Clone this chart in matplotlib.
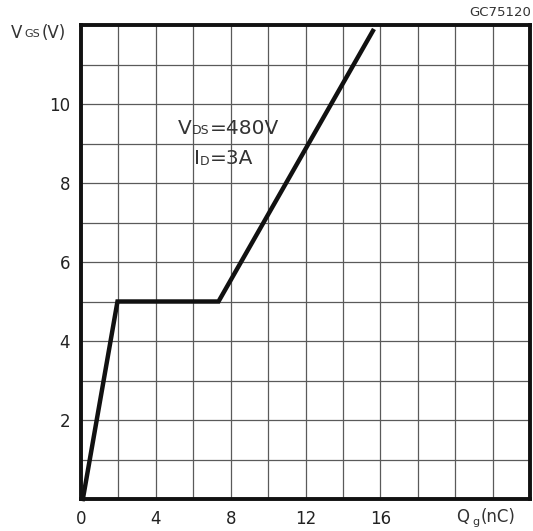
import numpy as np
import matplotlib.pyplot as plt

# gate charge curve (Qg in nC, Vgs in V)
qg = [0.1, 1.95, 7.35, 15.6]
vgs = [0.0, 5.0, 5.0, 11.85]

xticks = [0, 4, 8, 12, 16]
yticks = [2, 4, 6, 8, 10]

fig = plt.figure(figsize=(5.33, 5.31), dpi=100)
ax = fig.add_axes([81/533, 1-499/531, 449/533, 474/531])

ax.set_xlim(0, 24)
ax.set_ylim(0, 12)
ax.set_xticks(np.arange(0, 25, 2))
ax.set_yticks(np.arange(0, 13, 1))
ax.grid(True, color='#5a5a5a', lw=0.9)
ax.set_axisbelow(True)
ax.tick_params(length=0, labelsize=12, colors='#222222', pad=8)
ax.set_xticklabels([str(v) if v in xticks else '' for v in range(0, 25, 2)])
ax.set_yticklabels([str(v) if v in yticks else '' for v in range(0, 13)])
for s in ax.spines.values():
    s.set_linewidth(2.8)
    s.set_color('#111111')

ax.plot(qg, vgs, color='#111111', lw=3.2, solid_joinstyle='miter', clip_on=False)

# axis labels, datasheet style subscripts
fig.text(11/533, 1-33/531, 'V', fontsize=12, color='#333333', va='center')
fig.text(24/533, 1-34/531, 'GS', fontsize=8, color='#333333', va='center')
fig.text(42/533, 1-33/531, '(V)', fontsize=12, color='#333333', va='center')

fig.text(456/533, 1-517/531, 'Q', fontsize=12, color='#333333', va='center')
fig.text(472/533, 1-522/531, 'g', fontsize=8, color='#333333', va='center')
fig.text(481/533, 1-517/531, '(nC)', fontsize=12, color='#333333', va='center')

# test conditions
fig.text(178/533, 1-128/531, 'V', fontsize=14.5, color='#333333', va='center')
fig.text(192/533, 1-130/531, 'DS', fontsize=9, color='#333333', va='center')
fig.text(210/533, 1-128/531, '=480V', fontsize=14.5, color='#333333', va='center')
fig.text(194/533, 1-159/531, 'I', fontsize=14.5, color='#333333', va='center')
fig.text(200/533, 1-161/531, 'D', fontsize=9, color='#333333', va='center')
fig.text(210/533, 1-159/531, '=3A', fontsize=14.5, color='#333333', va='center')

fig.text(531/533, 1-13/531, 'GC75120', fontsize=9.5, color='#333333', ha='right', va='center')

plt.savefig('out.png', dpi=100)
